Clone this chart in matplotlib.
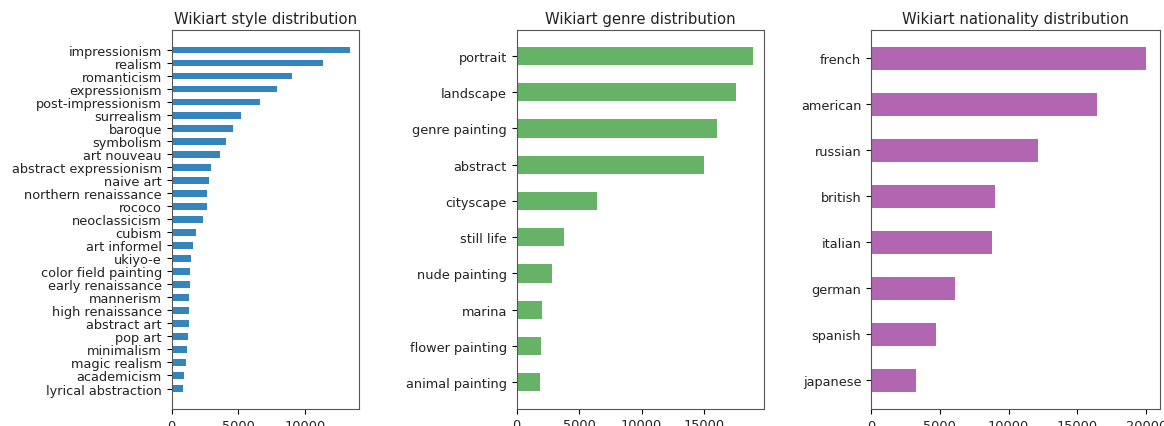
import matplotlib
matplotlib.use('Agg')
import matplotlib.pyplot as plt

# style counts
styles = ['impressionism', 'realism', 'romanticism', 'expressionism', 'post-impressionism',
          'surrealism', 'baroque', 'symbolism', 'art nouveau', 'abstract expressionism',
          'naive art', 'northern renaissance', 'rococo', 'neoclassicism', 'cubism',
          'art informel', 'ukiyo-e', 'color field painting', 'early renaissance', 'mannerism',
          'high renaissance', 'abstract art', 'pop art', 'minimalism', 'magic realism',
          'academicism', 'lyrical abstraction']
style_counts = [13380, 11380, 9050, 7920, 6640, 5190, 4590, 4060, 3610, 2930,
                2830, 2640, 2620, 2360, 1830, 1600, 1430, 1360, 1350, 1330,
                1300, 1280, 1250, 1150, 1100, 900, 830]

# genre counts
genres = ['portrait', 'landscape', 'genre painting', 'abstract', 'cityscape',
          'still life', 'nude painting', 'marina', 'flower painting', 'animal painting']
genre_counts = [18880, 17550, 16050, 14960, 6400, 3790, 2850, 2000, 1970, 1890]

# nationality counts
nationalities = ['french', 'american', 'russian', 'british', 'italian',
                 'german', 'spanish', 'japanese']
nationality_counts = [19960, 16400, 12160, 9010, 8820, 6130, 4700, 3290]

fig = plt.figure(figsize=(11.64, 4.27), dpi=100)
W, H = 1164, 427

def make_ax(left, right, top, bottom):
    return fig.add_axes([left / W, 1 - bottom / H, (right - left) / W, (bottom - top) / H])

ax1 = make_ax(171.7, 358.7, 30.7, 410)
ax2 = make_ax(516.7, 764.3, 30.7, 409.5)
ax3 = make_ax(871, 1159.5, 30.5, 410)

panels = [
    (ax1, styles, style_counts, 'C0', 0.9, 'Wikiart style distribution'),
    (ax2, genres, genre_counts, 'green', 0.6, 'Wikiart genre distribution'),
    (ax3, nationalities, nationality_counts, 'purple', 0.6, 'Wikiart nationality distribution'),
]

for ax, labels, counts, color, alpha, title in panels:
    pos = list(range(len(labels)))[::-1]
    ax.barh(pos, counts, height=0.5, color=color, alpha=alpha)
    ax.set_yticks(pos)
    ax.set_yticklabels(labels, fontsize=9.3, color='#222222')
    ax.tick_params(axis='x', labelsize=9.3, labelcolor='#222222')
    ax.set_title(title, fontsize=10.7, color='#222222', pad=5)
    for s in ax.spines.values():
        s.set_color('#555555')

fig.savefig('out.png', dpi=100)
